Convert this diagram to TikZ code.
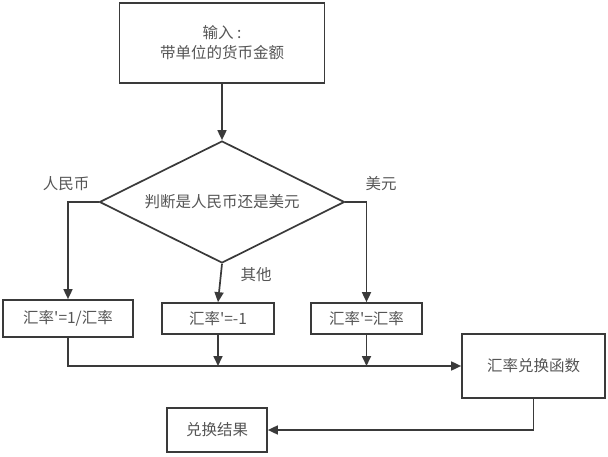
\documentclass[tikz,border=0pt]{standalone}
\usepackage{fontspec}
\setmainfont{Noto Sans CJK SC}[Ligatures=TeXOff]
\usetikzlibrary{arrows.meta,shapes.geometric}
\definecolor{linec}{HTML}{3A3A3A}
\definecolor{textc}{HTML}{555555}
\begin{document}
\begin{tikzpicture}[x=1pt,y=-1pt,
  every node/.style={font=\fontsize{15.5}{20}\selectfont, text=textc},
  box/.style={draw=linec, line width=1.7pt, rectangle, inner sep=0pt, align=center},
  dec/.style={draw=linec, line width=1.7pt, diamond, aspect=2, inner sep=0pt, minimum width=245pt, minimum height=122pt},
  conn/.style={draw=linec, line width=1.7pt},
  arr/.style={conn, -{Triangle[length=10pt,width=9pt]}},
  lab/.style={inner sep=0pt}]
\useasboundingbox (0,0) rectangle (608,457);
\node[box, minimum width=205pt, minimum height=80pt] (top) at (222,43) {输入 :\\带单位的货币金额};
\node[dec] (dia) at (222,202) {判断是人民币还是美元};
\node[box, minimum width=130pt, minimum height=37pt] (b1) at (68,318.5) {汇率'=1/汇率};
\node[box, minimum width=112pt, minimum height=31pt] (b2) at (218,318.5) {汇率'=-1};
\node[box, minimum width=111pt, minimum height=31pt] (b3) at (366.5,318.5) {汇率'=汇率};
\node[box, minimum width=143pt, minimum height=64pt] (fn) at (533.5,366) {汇率兑换函数};
\node[box, minimum width=100pt, minimum height=44pt] (res) at (217,430) {兑换结果};
\node[lab] (l1) at (66,184) {人民币};
\node[lab] (l2) at (381,184) {美元};
\node[lab] (l3) at (256,275) {其他};
\coordinate (m2) at (b2.south |- fn.west);
\coordinate (m3) at (b3.south |- fn.west);
\draw[arr] (top.south) -- (dia.north);
\draw[arr] (dia.west) -| (b1.north);
\draw[arr] (dia.east) -| (b3.north);
\draw[arr] (dia.south) -- (b2.north);
\draw[arr] (b1.south) |- (fn.west);
\draw[arr] (b2.south) -- (m2);
\draw[arr] (b3.south) -- (m3);
\draw[arr] (fn.south) |- (res.east);
\end{tikzpicture}
\end{document}
